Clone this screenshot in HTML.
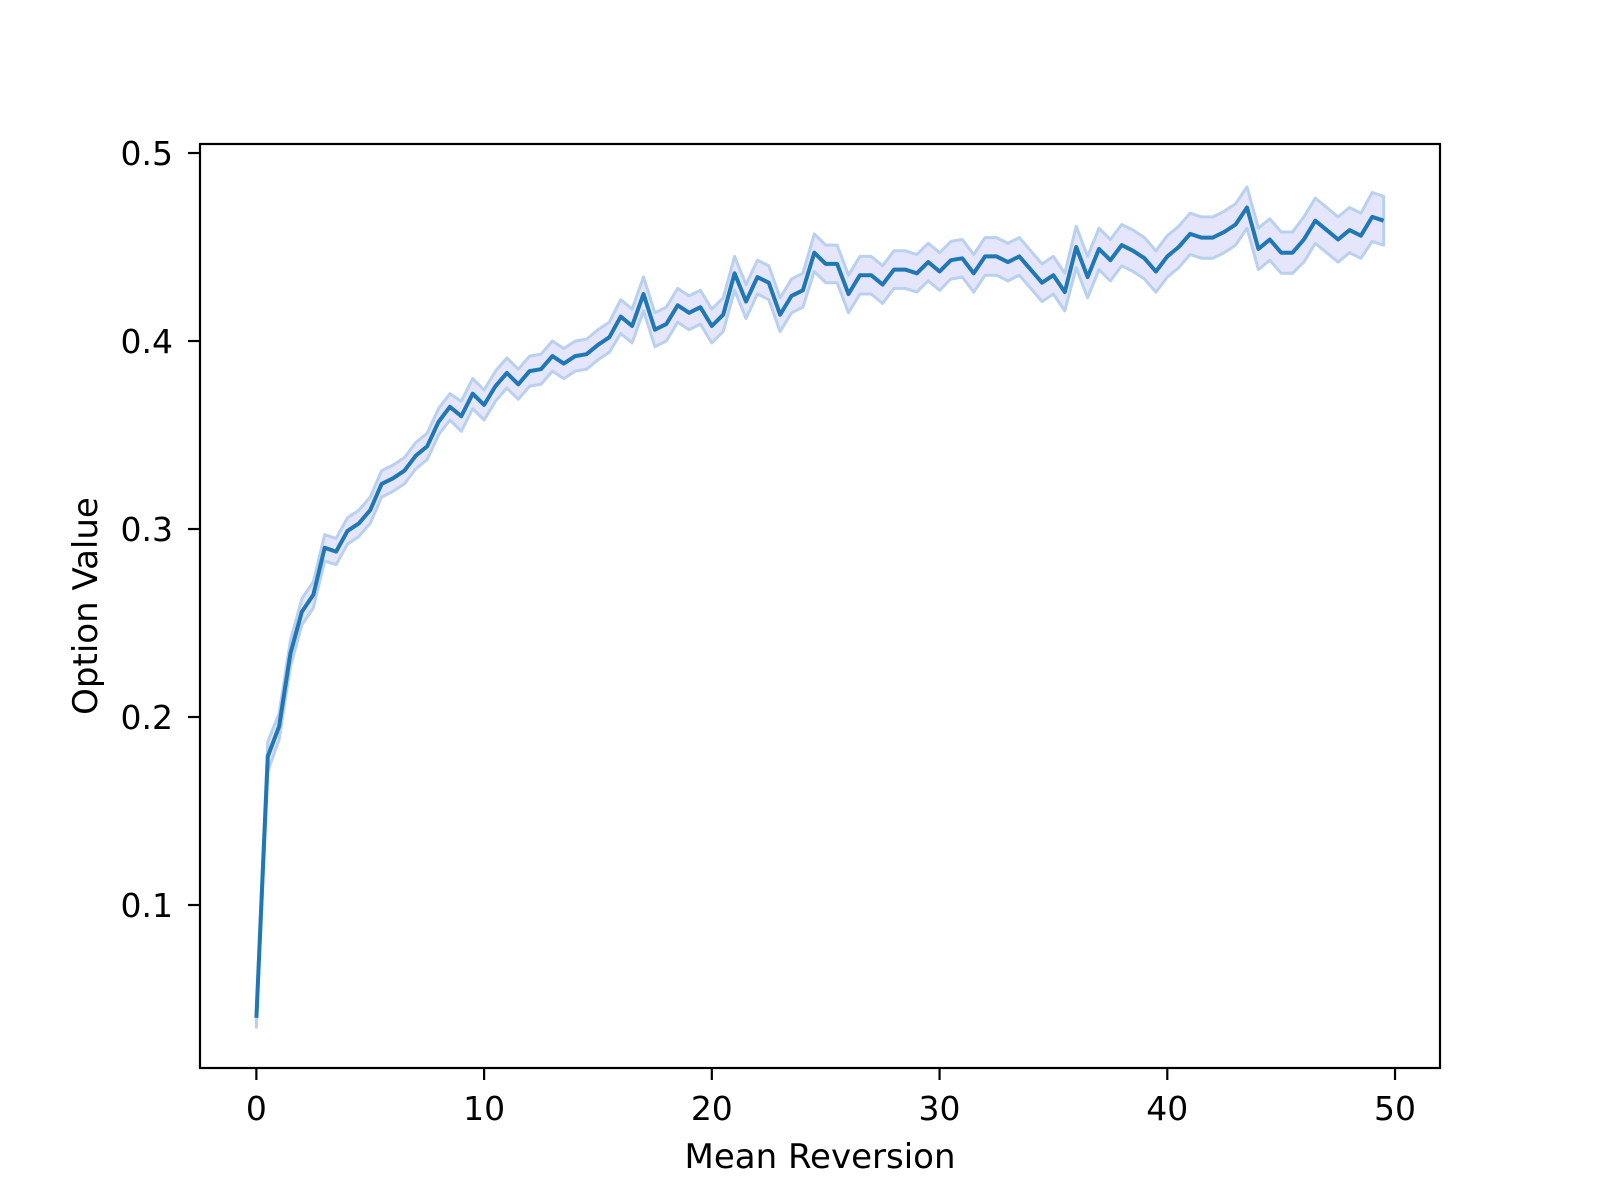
<!DOCTYPE html>
<html><head><meta charset="utf-8"><style>
html,body{margin:0;padding:0;background:#fff;width:1600px;height:1200px;overflow:hidden}
svg text{font-family:"DejaVu Sans","Liberation Sans",sans-serif;fill:#000}
</style></head><body>
<svg id="chart" width="1600" height="1200" viewBox="0 0 1600 1200" xmlns="http://www.w3.org/2000/svg">
<rect width="1600" height="1200" fill="#fff"/>
<g id="band-layer"></g>
<g id="line-layer"></g>
<g id="x-axis"></g>
<g id="y-axis"></g>
<rect x="200" y="144" width="1240" height="924" fill="none" stroke="#000" stroke-width="2.2"/>
<text x="820" y="1168" font-size="34" text-anchor="middle">Mean Reversion</text>
<text transform="translate(97,606) rotate(-90)" font-size="34" text-anchor="middle">Option Value</text>
</svg>
<script>
const xValues = [0,0.5,1,1.5,2,2.5,3,3.5,4,4.5,5,5.5,6,6.5,7,7.5,8,8.5,9,9.5,10,10.5,11,11.5,12,12.5,13,13.5,14,14.5,15,15.5,16,16.5,17,17.5,18,18.5,19,19.5,20,20.5,21,21.5,22,22.5,23,23.5,24,24.5,25,25.5,26,26.5,27,27.5,28,28.5,29,29.5,30,30.5,31,31.5,32,32.5,33,33.5,34,34.5,35,35.5,36,36.5,37,37.5,38,38.5,39,39.5,40,40.5,41,41.5,42,42.5,43,43.5,44,44.5,45,45.5,46,46.5,47,47.5,48,48.5,49,49.5];
const meanValues = [0.040,0.179,0.195,0.234,0.256,0.265,0.290,0.288,0.299,0.303,0.310,0.324,0.327,0.331,0.339,0.344,0.357,0.365,0.360,0.372,0.366,0.376,0.383,0.377,0.384,0.385,0.392,0.388,0.392,0.393,0.398,0.402,0.413,0.408,0.425,0.406,0.409,0.419,0.415,0.418,0.408,0.414,0.436,0.421,0.434,0.431,0.414,0.424,0.427,0.447,0.441,0.441,0.425,0.435,0.435,0.430,0.438,0.438,0.436,0.442,0.437,0.443,0.444,0.436,0.445,0.445,0.442,0.445,0.438,0.431,0.435,0.426,0.450,0.434,0.449,0.443,0.451,0.448,0.444,0.437,0.445,0.450,0.457,0.455,0.455,0.458,0.462,0.471,0.449,0.454,0.447,0.447,0.454,0.464,0.459,0.454,0.459,0.456,0.466,0.464];
const ciHalf = [0.005,0.008,0.007,0.007,0.007,0.007,0.007,0.007,0.007,0.007,0.007,0.007,0.007,0.007,0.007,0.007,0.007,0.007,0.008,0.008,0.008,0.008,0.008,0.008,0.008,0.008,0.008,0.008,0.008,0.008,0.008,0.008,0.009,0.009,0.009,0.009,0.009,0.009,0.009,0.009,0.009,0.009,0.009,0.009,0.009,0.009,0.009,0.009,0.009,0.010,0.010,0.010,0.010,0.010,0.010,0.010,0.010,0.010,0.010,0.010,0.010,0.010,0.010,0.010,0.010,0.010,0.010,0.010,0.010,0.010,0.010,0.010,0.011,0.011,0.011,0.011,0.011,0.011,0.011,0.011,0.011,0.011,0.011,0.011,0.011,0.011,0.011,0.011,0.011,0.011,0.011,0.011,0.012,0.012,0.012,0.012,0.012,0.012,0.013,0.013];
const xTicks = [0,10,20,30,40,50];
const yTicks = [0.1,0.2,0.3,0.4,0.5];
const yTickLabels = ["0.1","0.2","0.3","0.4","0.5"];

const NS="http://www.w3.org/2000/svg";
const L=200,R=1440,T=144,B=1068;
const xMin=-2.475,xMax=51.975,yMin=0.0133,yMax=0.5048;
const sx=v=>L+(v-xMin)/(xMax-xMin)*(R-L);
const sy=v=>B-(v-yMin)/(yMax-yMin)*(B-T);
function mk(tag,attrs,parent){const e=document.createElementNS(NS,tag);for(const k in attrs)e.setAttribute(k,attrs[k]);parent.appendChild(e);return e;}

const band=document.getElementById('band-layer');
let up=xValues.map((x,i)=>sx(x).toFixed(1)+','+sy(meanValues[i]+ciHalf[i]).toFixed(1));
let lo=xValues.map((x,i)=>sx(x).toFixed(1)+','+sy(meanValues[i]-ciHalf[i]).toFixed(1)).reverse();
const bp=mk('polygon',{points:up.concat(lo).join(' '),fill:'#e5e5fb',stroke:'#b9d1ee','stroke-width':'3','stroke-linejoin':'round'},band);



const line=document.getElementById('line-layer');
const lp=mk('polyline',{points:xValues.map((x,i)=>sx(x).toFixed(1)+','+sy(meanValues[i]).toFixed(1)).join(' '),fill:'none',stroke:'#1f77b4','stroke-width':'4','stroke-linejoin':'round'},line);



const xa=document.getElementById('x-axis');
xTicks.forEach(t=>{
  const tk=mk('line',{x1:sx(t),x2:sx(t),y1:B,y2:B+12,stroke:'#000','stroke-width':'2.2'},xa);
  
  
  const tx=mk('text',{x:sx(t),y:1120,'font-size':'33','text-anchor':'middle'},xa);
  tx.textContent=String(t);
  
  
});
const ya=document.getElementById('y-axis');
yTicks.forEach((t,i)=>{
  const tk=mk('line',{x1:L-12,x2:L,y1:sy(t),y2:sy(t),stroke:'#000','stroke-width':'2.2'},ya);
  
  
  const tx=mk('text',{x:173,y:sy(t)+12,'font-size':'33','text-anchor':'end'},ya);
  tx.textContent=yTickLabels[i];
  
  
});
</script>
</body></html>
